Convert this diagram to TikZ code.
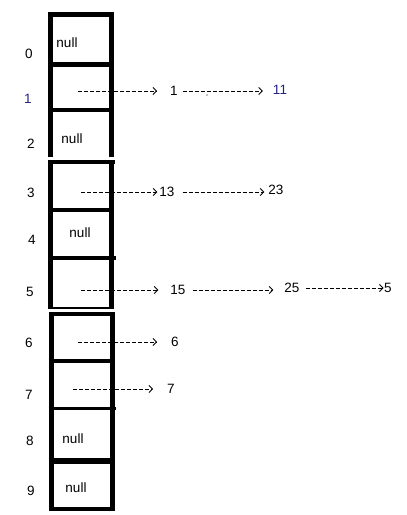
\documentclass[tikz,border=0pt]{standalone}
\usepackage{fontspec}
\setmainfont{Liberation Sans}
\usetikzlibrary{arrows.meta}
\definecolor{navy}{RGB}{35,35,130}
\tikzset{
  wall/.style={line width=5pt},
  ptr/.style={->, >={Straight Barb[length=3.5pt,width=7pt]}, dash pattern=on 4pt off 2pt, line width=0.8pt},
  lbl/.style={inner sep=0pt}
}
\begin{document}
\begin{tikzpicture}[x=1pt, y=-1pt, every node/.style={font=\fontsize{13.5}{15}\selectfont}]
  \useasboundingbox (0,0) rectangle (407,515);
  % the three groups of slots
  \draw[wall] (50.5,157) |- (111.5,14.5) -- (111.5,157);
  \draw[wall] (48,64) -- (114,64);
  \draw[wall, line width=4pt] (48,110) -- (114,110);
  \draw[wall] (50.5,160) -- (50.5,309);
  \draw[wall] (111.5,160) -- (111.5,309);
  \draw[wall, line width=4.5pt] (48,162) -- (115,162);
  \draw[wall, line width=4pt] (48,210) -- (114,210);
  \draw[wall, line width=4pt] (48,258) -- (116,258);
  \draw[wall, line width=2.5pt] (48,308) -- (114,308);
  \draw[wall] (51,312) -- (51,511);
  \draw[wall] (112,312) -- (112,511);
  \draw[wall, line width=4pt] (48.5,313.5) -- (115,313.5);
  \draw[wall, line width=4pt] (48.5,361) -- (114.5,361);
  \draw[wall, line width=3.5pt] (48.5,408.5) -- (116,408.5);
  \draw[wall, line width=6pt] (48.5,461) -- (114.5,461);
  \draw[wall, line width=4pt] (48.5,509) -- (114.5,509);
  % indices
  \foreach \i/\x/\y in {0/29/54, 2/31/144, 3/31/193, 4/32/240, 5/30/292, 6/29/343, 7/29/395, 8/30/441, 9/31/491}
    \node[lbl] (idx\i) at (\x,\y) {\i};
  \node[lbl, text=navy] (idx1) at (28,99) {1};
  % empty slots
  \foreach \i/\x/\y in {0/67/43, 2/72/139, 4/80/233, 8/73/439, 9/76/488}
    \node[lbl] (null\i) at (\x,\y) {null};
  % chains
  \coordinate (s1) at (78,91);
  \coordinate (s3) at (81,192);
  \coordinate (s5) at (81,290);
  \coordinate (s6) at (78,342);
  \coordinate (s7) at (73,389);
  \node[lbl] (v1) at (174,91) {1};
  \node[lbl, text=navy] (v11) at (280,90) {11};
  \node[lbl] (v13) at (167,192) {13};
  \node[lbl] (v23) at (276,190) {23};
  \node[lbl] (v15) at (178,290) {15};
  \node[lbl] (v25) at (292,288) {25};
  \node[lbl] (v5) at (388,288) {5};
  \node[lbl] (v6) at (175,342) {6};
  \node[lbl] (v7) at (171,389) {7};
  \draw[ptr, shorten >=13pt] (s1) -- (v1.west);
  \draw[ptr, shorten <=5pt, shorten >=10pt] (v1.east) -- (v1.east -| v11.west);
  \fill (207,95) circle (0.7pt);
  \draw[ptr, shorten >=2pt] (s3) -- (v13.west);
  \draw[ptr, shorten <=8pt, shorten >=4pt] (v13.east) -- (v13.east -| v23.west);
  \draw[ptr, shorten >=12pt] (s5) -- (v15.west);
  \draw[ptr, shorten <=7pt, shorten >=11pt] (v15.east) -- (v15.east -| v25.west);
  \draw[ptr, shorten <=6pt, shorten >=0.5pt] (v25.east) -- (v5.west);
  \draw[ptr, shorten >=14pt] (s6) -- (v6.west);
  \draw[ptr, shorten >=14pt] (s7) -- (v7.west);
\end{tikzpicture}
\end{document}
